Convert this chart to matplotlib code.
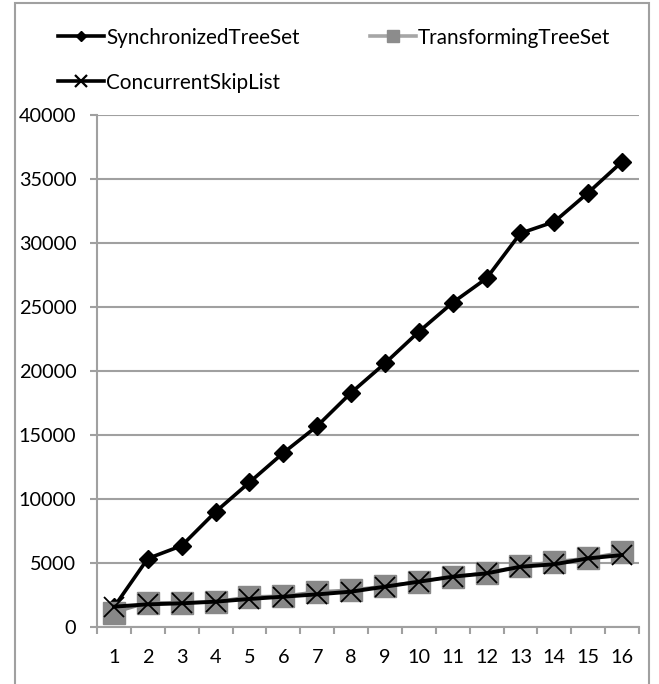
import matplotlib.pyplot as plt
from matplotlib.lines import Line2D
from matplotlib.patches import Rectangle

plt.rcParams['font.family'] = ['Lato', 'DejaVu Sans']

threads = list(range(1, 17))
sync_tree = [1550, 5350, 6350, 9000, 11300, 13600, 15700, 18300,
             20600, 23070, 25340, 27240, 30760, 31660, 33930, 36350]
transforming_tree = [1120, 1900, 1900, 1980, 2370, 2420, 2760, 2890,
                     3200, 3540, 3930, 4240, 4770, 5100, 5390, 5830]
concurrent_skip = [1590, 1770, 1850, 1980, 2190, 2370, 2550, 2760,
                   3150, 3540, 3930, 4190, 4710, 4900, 5360, 5620]
labels = ['SynchronizedTreeSet', 'TransformingTreeSet', 'ConcurrentSkipList']

grid_col = '#a0a0a0'
W, H = 659, 684

fig = plt.figure(figsize=(W / 100, H / 100), dpi=100)
ax = fig.add_axes([97 / W, 57 / H, 542 / W, 512 / H])

ax.plot(threads, sync_tree, color='black', lw=2.6, marker='D', ms=9,
        zorder=3)
ax.plot(threads, transforming_tree, color='#888888', lw=2.2, marker='s',
        ms=16.5, zorder=4)
ax.plot(threads, concurrent_skip, color='black', lw=2.8, marker='x',
        ms=15, mew=1.3, zorder=5)

ax.set_xlim(0.5, 16.5)
ax.set_ylim(0, 40000)
ax.set_yticks(range(0, 40001, 5000))
ax.set_xticks(threads)
ax.set_xticks([t + 0.5 for t in range(0, 17)], minor=True)
ax.tick_params(axis='x', which='major', length=0, pad=16, labelsize=14.3)
ax.tick_params(axis='x', which='minor', length=5, width=1.5,
               color=grid_col, direction='out')
ax.tick_params(axis='y', length=5, width=1.5, color=grid_col, pad=10,
               labelsize=14.3)
ax.grid(axis='y', color=grid_col, lw=1.5)
ax.set_axisbelow(True)
for side in ('top', 'right'):
    ax.spines[side].set_visible(False)
for side in ('left', 'bottom'):
    ax.spines[side].set_color(grid_col)
    ax.spines[side].set_linewidth(1.5)


def legend_entry(x0, y, label, color, marker, ms, mcolor, mew=1.0):
    # short line sample with a small marker, then the series name
    x1 = x0 + 46
    fig.add_artist(Line2D([x0 / W, x1 / W], [1 - y / H, 1 - y / H],
                          color=color, lw=2.6, transform=fig.transFigure))
    fig.add_artist(Line2D([(x0 + x1) / 2 / W], [1 - y / H], marker=marker,
                          ms=ms, color=mcolor, mew=mew, ls='none',
                          transform=fig.transFigure))
    fig.text((x1 + 2) / W, 1 - y / H, label, fontsize=14.9,
             va='center_baseline', ha='left')


legend_entry(58, 36, labels[0], 'black', 'D', 5, 'black')
legend_entry(370, 36, labels[1], '#a6a6a6', 's', 8, '#8c8c8c')
legend_entry(58, 81, labels[2], 'black', 'x', 8, 'black', mew=1.6)

# chart frame
fig.patches.append(Rectangle((15 / W, -0.05), 634 / W, 1.05 - 3 / H,
                             transform=fig.transFigure, fill=False,
                             edgecolor=grid_col, lw=1.5))

fig.savefig('out.png', dpi=100)
